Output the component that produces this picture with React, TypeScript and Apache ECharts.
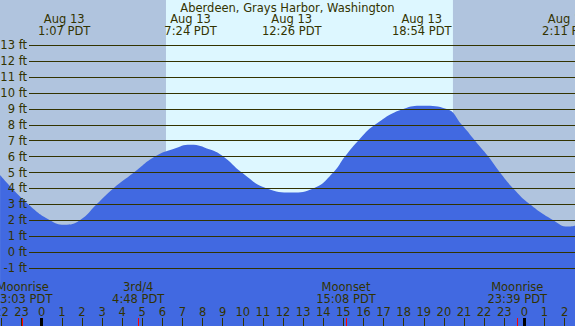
import React, { useEffect, useRef } from "react";
import * as echarts from "echarts";

// Hours relative to midnight starting Aug 13 (PDT)
const TIDE_HOURS = [-2.07, -0.67, 0.41, 1.12, 1.9, 2.73, 3.56, 4.59, 5.63, 6.55, 7.4, 8.37, 9.03, 9.95, 11.19, 12.43, 13.51, 14.5, 15.08, 15.74, 16.57, 17.98, 18.95, 20.14, 20.89, 21.55, 22.21, 22.79, 23.45, 24.28, 25.44, 26.18, 26.52];
const TIDE_FT = [4.84, 3.0, 2.0, 1.72, 2.0, 3.0, 4.0, 5.0, 6.0, 6.48, 6.75, 6.44, 6.0, 5.0, 4.0, 3.75, 4.0, 5.0, 6.0, 7.0, 8.0, 9.0, 9.2, 9.0, 8.0, 7.0, 6.0, 5.0, 4.0, 3.0, 2.0, 1.6, 1.65];

const EXTREME_HOURS = [1.117, 7.4, 12.433, 18.9, 26.183];
const EXTREME_LABELS = ["Aug 13\n1:07 PDT", "Aug 13\n7:24 PDT", "Aug 13\n12:26 PDT", "Aug 13\n18:54 PDT", "Aug 14\n2:11 PDT"];

const MOON_HOURS = [-0.95, 4.8, 15.133, 23.65];
const MOON_LABELS = ["Moonrise\n23:03 PDT", "3rd/4\n4:48 PDT", "Moonset\n15:08 PDT", "Moonrise\n23:39 PDT"];

const HOUR_TICKS = [-2, -1, 0, 1, 2, 3, 4, 5, 6, 7, 8, 9, 10, 11, 12, 13, 14, 15, 16, 17, 18, 19, 20, 21, 22, 23, 24, 25, 26];
const MIDNIGHTS = [0, 24];
const SUN_HOURS = [6.18, 20.45]; // sunrise, sunset

const FT_TICKS_MIN = -1;
const FT_TICKS_MAX = 13;

const TITLE = "Aberdeen, Grays Harbor, Washington";

const XMIN = -2.074;
const XMAX = 26.52;
const YMIN = -4.654;
const YMAX = 15.849;

const FONT = "DejaVu Sans";
const FS = 11.5;
const TXT = "#333300";

function lookup(values: number[], labels: string[], v: number) {
  for (let i = 0; i < values.length; i++) {
    if (Math.abs(values[i] - v) < 1e-6) return labels[i];
  }
  return "";
}

export default function App() {
  const ref = useRef<HTMLDivElement>(null);
  useEffect(() => {
    if (!ref.current) return;
    const chart = echarts.init(ref.current, null, { renderer: "svg" });
    const baseX = {
      type: "value",
      gridIndex: 0,
      min: XMIN,
      max: XMAX,
      position: "bottom",
      z: 10,
      splitLine: { show: false },
      axisLine: { show: false, onZero: false },
    };
    chart.setOption({
      animation: false,
      backgroundColor: "#B0C4DE",
      textStyle: { fontFamily: FONT },
      title: {
        text: TITLE,
        left: "center",
        top: 2,
        padding: 0,
        textStyle: { fontFamily: FONT, fontSize: FS, fontWeight: "normal", color: TXT, lineHeight: 11 },
      },
      grid: [
        { left: 0, right: 0, top: 0, bottom: 0, containLabel: false, outerBoundsMode: "none" },
        { left: 29, right: 0, top: 45.3, bottom: 58.1, containLabel: false, outerBoundsMode: "none" },
      ],
      xAxis: [
        {
          ...baseX,
          axisTick: { show: true, inside: true, length: 8, customValues: HOUR_TICKS, lineStyle: { color: TXT, width: 1 } },
          axisLabel: {
            show: true,
            inside: true,
            margin: 14.3,
            verticalAlign: "middle",
            lineHeight: 11,
            customValues: HOUR_TICKS,
            fontFamily: FONT,
            fontSize: FS,
            color: TXT,
            formatter: (v: number) => String(((Math.round(v) % 24) + 24) % 24),
          },
        },
        {
          ...baseX,
          axisTick: { show: true, inside: true, length: 8, customValues: MIDNIGHTS, lineStyle: { color: "#000000", width: 3 } },
          axisLabel: { show: false },
        },
        {
          ...baseX,
          axisTick: { show: true, inside: true, length: 8, customValues: MOON_HOURS, lineStyle: { color: "#ff0000", width: 1 } },
          axisLabel: {
            show: true,
            inside: true,
            margin: 33,
            verticalAlign: "middle",
            lineHeight: 12.4,
            customValues: MOON_HOURS,
            fontFamily: FONT,
            fontSize: FS,
            color: TXT,
            formatter: (v: number) => lookup(MOON_HOURS, MOON_LABELS, v),
          },
        },
        {
          ...baseX,
          position: "top",
          axisTick: { show: false },
          axisLabel: {
            show: true,
            inside: true,
            margin: 25,
            verticalAlign: "middle",
            lineHeight: 12.4,
            customValues: EXTREME_HOURS,
            fontFamily: FONT,
            fontSize: FS,
            color: TXT,
            formatter: (v: number) => lookup(EXTREME_HOURS, EXTREME_LABELS, v),
          },
        },
        {
          type: "value",
          gridIndex: 1,
          min: XMIN,
          max: XMAX,
          show: false,
        },
      ],
      yAxis: [
        { type: "value", gridIndex: 0, min: YMIN, max: YMAX, show: false },
        {
          type: "value",
          gridIndex: 1,
          min: FT_TICKS_MIN,
          max: FT_TICKS_MAX,
          interval: 1,
          z: 10,
          axisLine: { show: false },
          axisTick: { show: false },
          splitLine: { show: true, lineStyle: { color: TXT, width: 1 } },
          axisLabel: {
            show: true,
            margin: 2,
            fontFamily: FONT,
            fontSize: FS,
            color: TXT,
            formatter: "{value} ft",
          },
        },
      ],
      series: [
        {
          type: "line",
          xAxisIndex: 0,
          yAxisIndex: 0,
          z: 1,
          data: [],
          markArea: {
            silent: true,
            itemStyle: { color: "#DDF7FF" },
            data: [[{ xAxis: SUN_HOURS[0] }, { xAxis: SUN_HOURS[1] }]],
          },
        },
        {
          type: "line",
          xAxisIndex: 0,
          yAxisIndex: 0,
          z: 2,
          smooth: 0.5,
          showSymbol: false,
          lineStyle: { width: 0 },
          areaStyle: { color: "#4169E1", opacity: 1, origin: "start" },
          data: TIDE_HOURS.map((h, i) => [h, TIDE_FT[i]]),
        },
      ],
    });
    return () => chart.dispose();
  }, []);
  return <div ref={ref} style={{ position: "fixed", left: 0, top: 0, width: 575, height: 326 }} />;
}
